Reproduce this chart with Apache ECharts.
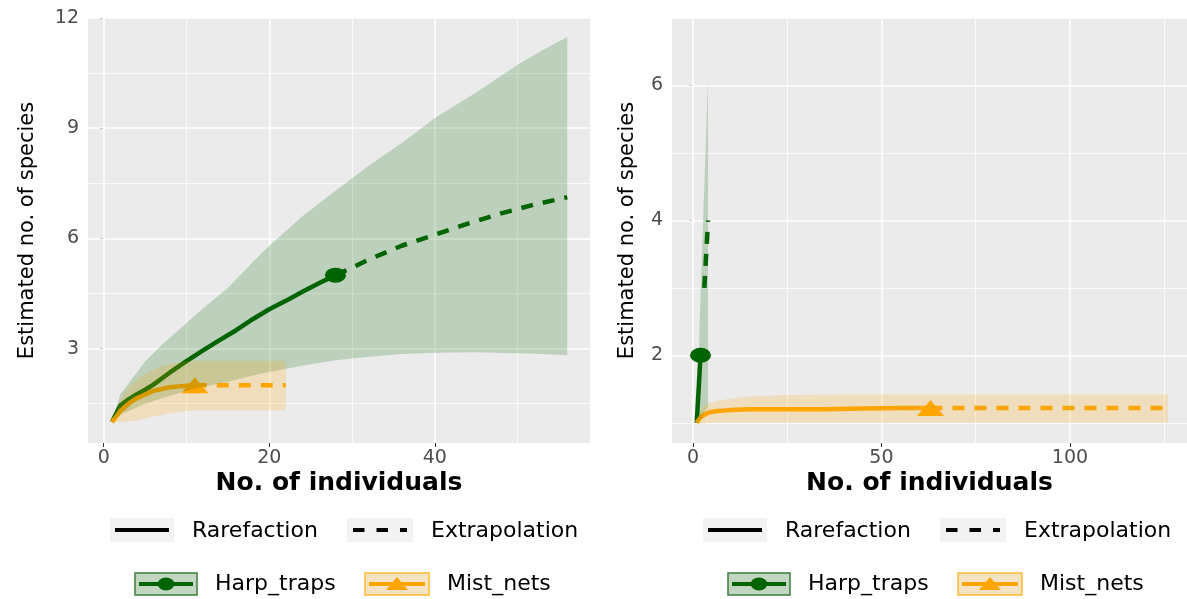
<!DOCTYPE html>
<html>
<head>
<meta charset="utf-8">
<script src="https://cdn.jsdelivr.net/npm/echarts@6.0.0/dist/echarts.min.js"></script>
<style>
  html, body { margin: 0; padding: 0; background: #fff; }
  #chart { width: 1187px; height: 599px; }
</style>
</head>
<body>
<div id="chart"></div>
<script>
// ---- left panel: Harp_traps ----
const leftHarpRareX = [1, 2, 3, 4, 5, 6, 8, 10, 12, 14, 16, 18, 20, 22, 24, 26, 28];
const leftHarpRareY = [1, 1.45, 1.62, 1.76, 1.88, 2.02, 2.35, 2.66, 2.95, 3.23, 3.5, 3.8, 4.07, 4.3, 4.55, 4.78, 5.0];
const leftHarpExtraX = [28, 30, 32, 36, 40, 44, 48, 52, 56];
const leftHarpExtraY = [5.0, 5.2, 5.42, 5.8, 6.1, 6.4, 6.68, 6.92, 7.12];
const leftHarpBandX = [1, 2, 3, 5, 7, 10, 12, 15, 18, 20, 24, 28, 32, 36, 40, 45, 50, 53, 56];
const leftHarpBandHi = [1.0, 1.75, 2.05, 2.65, 3.1, 3.7, 4.1, 4.65, 5.35, 5.8, 6.6, 7.3, 7.98, 8.6, 9.28, 9.97, 10.73, 11.12, 11.48];
const leftHarpBandLo = [1.0, 1.2, 1.3, 1.5, 1.65, 1.85, 1.96, 2.1, 2.27, 2.36, 2.53, 2.68, 2.78, 2.85, 2.89, 2.9, 2.87, 2.85, 2.82];
const leftHarpObs = [28, 5.0];

// ---- left panel: Mist_nets ----
const leftMistRareX = [1, 2, 3, 4, 5, 6, 7, 8, 9, 10, 11];
const leftMistRareY = [1, 1.3, 1.5, 1.65, 1.75, 1.85, 1.9, 1.95, 1.97, 1.99, 2.0];
const leftMistExtraX = [11, 22];
const leftMistExtraY = [2.0, 2.0];
const leftMistBandX = [1, 2, 3, 4, 5, 6, 7, 8, 9, 10, 11, 22];
const leftMistBandHi = [1.0, 1.6, 1.95, 2.15, 2.3, 2.42, 2.52, 2.58, 2.62, 2.65, 2.67, 2.67];
const leftMistBandLo = [1.0, 1.0, 1.02, 1.05, 1.1, 1.15, 1.2, 1.24, 1.28, 1.3, 1.32, 1.32];
const leftMistObs = [11, 2.0];

// ---- right panel: Harp_traps ----
const rightHarpRareX = [1, 2];
const rightHarpRareY = [1, 2];
const rightHarpExtraX = [3, 4];
const rightHarpExtraY = [3, 4];
const rightHarpBandX = [1, 2, 3, 4];
const rightHarpBandHi = [1, 2.9, 4.5, 6.1];
const rightHarpBandLo = [1, 1.05, 1.15, 1.25];
const rightHarpObs = [2, 2];

// ---- right panel: Mist_nets ----
const rightMistRareX = [1, 2, 3, 4, 6, 8, 10, 15, 25, 35, 45, 55, 63];
const rightMistRareY = [1, 1.08, 1.12, 1.15, 1.17, 1.18, 1.19, 1.2, 1.2, 1.2, 1.21, 1.22, 1.22];
const rightMistExtraX = [63, 126];
const rightMistExtraY = [1.22, 1.22];
const rightMistBandX = [1, 2, 3, 4, 6, 10, 15, 25, 40, 63, 126];
const rightMistBandHi = [1, 1.2, 1.26, 1.29, 1.32, 1.36, 1.39, 1.41, 1.42, 1.42, 1.42];
const rightMistBandLo = [1, 0.99, 0.99, 1, 1, 1, 1, 1, 1, 1, 1];
const rightMistObs = [63, 1.22];

// ticks
const leftXTicks = [0, 20, 40];
const leftXMinor = [10, 30, 50];
const leftYTicks = [3, 6, 9, 12];
const leftYMinor = [1.5, 4.5, 7.5, 10.5];
const rightXTicks = [0, 50, 100];
const rightXMinor = [25, 75, 125];
const rightYTicks = [2, 4, 6];
const rightYMinor = [1, 3, 5, 7];

const GREEN = "#006400";
const ORANGE = "#FFA500";
const FONT = "'DejaVu Sans', sans-serif";

const zip = (xs, ys) => xs.map((x, i) => [x, ys[i]]);

function lineSeries(axis, xs, ys, color, dashed) {
  return {
    type: "line",
    xAxisIndex: axis,
    yAxisIndex: axis,
    data: zip(xs, ys),
    symbol: "none",
    silent: true,
    z: 3,
    lineStyle: { color: color, width: 4.5, type: dashed ? [12, 10] : "solid" },
  };
}

function pointSeries(axis, pt, color, shape) {
  return {
    type: "scatter",
    xAxisIndex: axis,
    yAxisIndex: axis,
    data: [pt],
    symbol: shape,
    symbolSize: shape === "circle" ? [21, 15] : [27, 16],
    itemStyle: { color: color, opacity: 1 },
    silent: true,
    z: 4,
  };
}

// 置信区间（半透明，画在线的上面，跟原图一样）
function bandSeries(axis, xs, lo, hi, fill) {
  return {
    type: "custom",
    xAxisIndex: axis,
    yAxisIndex: axis,
    silent: true,
    z: 6,
    data: xs.map((x, i) => [x, lo[i], hi[i]]),
    encode: { x: 0, y: [1, 2] },
    renderItem(params, api) {
      if (params.dataIndex !== 0) return;
      const top = xs.map((x, i) => api.coord([x, hi[i]]));
      const bottom = xs.map((x, i) => api.coord([x, lo[i]])).reverse();
      return {
        type: "polygon",
        shape: { points: top.concat(bottom) },
        style: { fill: fill },
      };
    },
  };
}

function gridLineSeries(axis, xMajor, xMinor, yMajor, yMinor) {
  const major = { color: "#ffffff", width: 1.6, type: "solid" };
  const minor = { color: "#ffffff", width: 0.8, type: "solid" };
  return {
    type: "line",
    xAxisIndex: axis,
    yAxisIndex: axis,
    data: [],
    silent: true,
    markLine: {
      silent: true,
      z: 1,
      symbol: ["none", "none"],
      label: { show: false },
      emphasis: { disabled: true },
      lineStyle: minor,
      data: [
        ...xMinor.map((v) => ({ xAxis: v, lineStyle: minor })),
        ...yMinor.map((v) => ({ yAxis: v, lineStyle: minor })),
        ...xMajor.map((v) => ({ xAxis: v, lineStyle: major })),
        ...yMajor.map((v) => ({ yAxis: v, lineStyle: major })),
      ],
    },
  };
}

function xAxisOpt(grid, min, max, ticks) {
  return {
    type: "value",
    gridIndex: grid,
    min: min,
    max: max,
    axisLine: { show: false, onZero: false },
    axisTick: { show: true, customValues: ticks, length: 4, lineStyle: { color: "#333333", width: 1 } },
    axisLabel: { customValues: ticks, color: "#4D4D4D", fontFamily: FONT, fontSize: 19, margin: 6 },
    splitLine: { show: false },
    name: "No. of individuals",
    nameLocation: "middle",
    nameGap: 28,
    nameMoveOverlap: false,
    nameTextStyle: { color: "#000", fontFamily: FONT, fontSize: 25, fontWeight: "bold" },
  };
}

function yAxisOpt(grid, min, max, ticks, gap) {
  return {
    type: "value",
    gridIndex: grid,
    min: min,
    max: max,
    axisLine: { show: false },
    axisTick: { show: true, customValues: ticks, length: 4, lineStyle: { color: "#333333", width: 1 } },
    axisLabel: { customValues: ticks, color: "#4D4D4D", fontFamily: FONT, fontSize: 19, margin: 9 },
    splitLine: { show: false },
    name: "Estimated no. of species",
    nameLocation: "middle",
    nameGap: gap,
    nameMoveOverlap: false,
    nameTextStyle: { color: "#000", fontFamily: FONT, fontSize: 21 },
  };
}

// ggplot 风格的图例，两行
function legendGraphics(dx) {
  const txt = (x, y, s) => ({
    type: "text",
    x: x + dx,
    y: y,
    style: { text: s, fill: "#000", font: "22px " + FONT, textVerticalAlign: "middle" },
  });
  return [
    { type: "rect", shape: { x: 110 + dx, y: 518, width: 64, height: 24 }, style: { fill: "#F2F2F2" } },
    { type: "line", shape: { x1: 115 + dx, y1: 530, x2: 169 + dx, y2: 530 }, style: { stroke: "#000", lineWidth: 4 } },
    txt(192, 531, "Rarefaction"),
    { type: "rect", shape: { x: 347 + dx, y: 518, width: 66, height: 24 }, style: { fill: "#F2F2F2" } },
    { type: "line", shape: { x1: 353 + dx, y1: 530, x2: 407 + dx, y2: 530 }, style: { stroke: "#000", lineWidth: 4, lineDash: [11.5, 12] } },
    txt(431, 531, "Extrapolation"),

    { type: "rect", shape: { x: 135 + dx, y: 573, width: 62, height: 22 }, style: { fill: "#C2D6C2", stroke: "#3C7F3C", lineWidth: 1.5 } },
    { type: "line", shape: { x1: 139 + dx, y1: 584, x2: 193 + dx, y2: 584 }, style: { stroke: GREEN, lineWidth: 4 } },
    { type: "circle", x: 166 + dx, y: 584, scaleX: 1.3, shape: { cx: 0, cy: 0, r: 6.5 }, style: { fill: GREEN } },
    txt(215, 584, "Harp_traps"),
    { type: "rect", shape: { x: 365 + dx, y: 573, width: 64, height: 22 }, style: { fill: "#F3E3C2", stroke: "#FFB833", lineWidth: 1.5 } },
    { type: "line", shape: { x1: 369 + dx, y1: 584, x2: 425 + dx, y2: 584 }, style: { stroke: ORANGE, lineWidth: 4 } },
    { type: "polygon", shape: { points: [[386 + dx, 590], [408 + dx, 590], [397 + dx, 577]] }, style: { fill: ORANGE } },
    txt(447, 584, "Mist_nets"),
  ];
}

const chart = echarts.init(document.getElementById("chart"));
const option = {
  animation: false,
  backgroundColor: "#ffffff",
  grid: [
    { left: 88, top: 18, width: 502, height: 425, show: true, backgroundColor: "#EBEBEB", borderWidth: 0, outerBoundsMode: "none" },
    { left: 672, top: 18, width: 515, height: 425, show: true, backgroundColor: "#EBEBEB", borderWidth: 0, outerBoundsMode: "none" },
  ],
  xAxis: [xAxisOpt(0, -1.9, 58.75, leftXTicks), xAxisOpt(1, -5.57, 131.06, rightXTicks)],
  yAxis: [yAxisOpt(0, 0.43, 12, leftYTicks, 50), yAxisOpt(1, 0.7, 7.0, rightYTicks, 34)],
  graphic: legendGraphics(0).concat(legendGraphics(593)),
  series: [
    gridLineSeries(0, leftXTicks, leftXMinor, leftYTicks, leftYMinor),
    gridLineSeries(1, rightXTicks, rightXMinor, rightYTicks, rightYMinor),

    lineSeries(0, leftHarpRareX, leftHarpRareY, GREEN, false),
    lineSeries(0, leftHarpExtraX, leftHarpExtraY, GREEN, true),
    lineSeries(0, leftMistRareX, leftMistRareY, ORANGE, false),
    lineSeries(0, leftMistExtraX, leftMistExtraY, ORANGE, true),
    pointSeries(0, leftHarpObs, GREEN, "circle"),
    pointSeries(0, leftMistObs, ORANGE, "triangle"),
    bandSeries(0, leftHarpBandX, leftHarpBandLo, leftHarpBandHi, "rgba(0,100,0,0.2)"),
    bandSeries(0, leftMistBandX, leftMistBandLo, leftMistBandHi, "rgba(255,165,0,0.2)"),

    lineSeries(1, rightHarpRareX, rightHarpRareY, GREEN, false),
    lineSeries(1, rightHarpExtraX, rightHarpExtraY, GREEN, true),
    lineSeries(1, rightMistRareX, rightMistRareY, ORANGE, false),
    lineSeries(1, rightMistExtraX, rightMistExtraY, ORANGE, true),
    pointSeries(1, rightHarpObs, GREEN, "circle"),
    pointSeries(1, rightMistObs, ORANGE, "triangle"),
    bandSeries(1, rightHarpBandX, rightHarpBandLo, rightHarpBandHi, "rgba(0,100,0,0.2)"),
    bandSeries(1, rightMistBandX, rightMistBandLo, rightMistBandHi, "rgba(255,165,0,0.2)"),
  ],
};
chart.setOption(option);
</script>
</body>
</html>
